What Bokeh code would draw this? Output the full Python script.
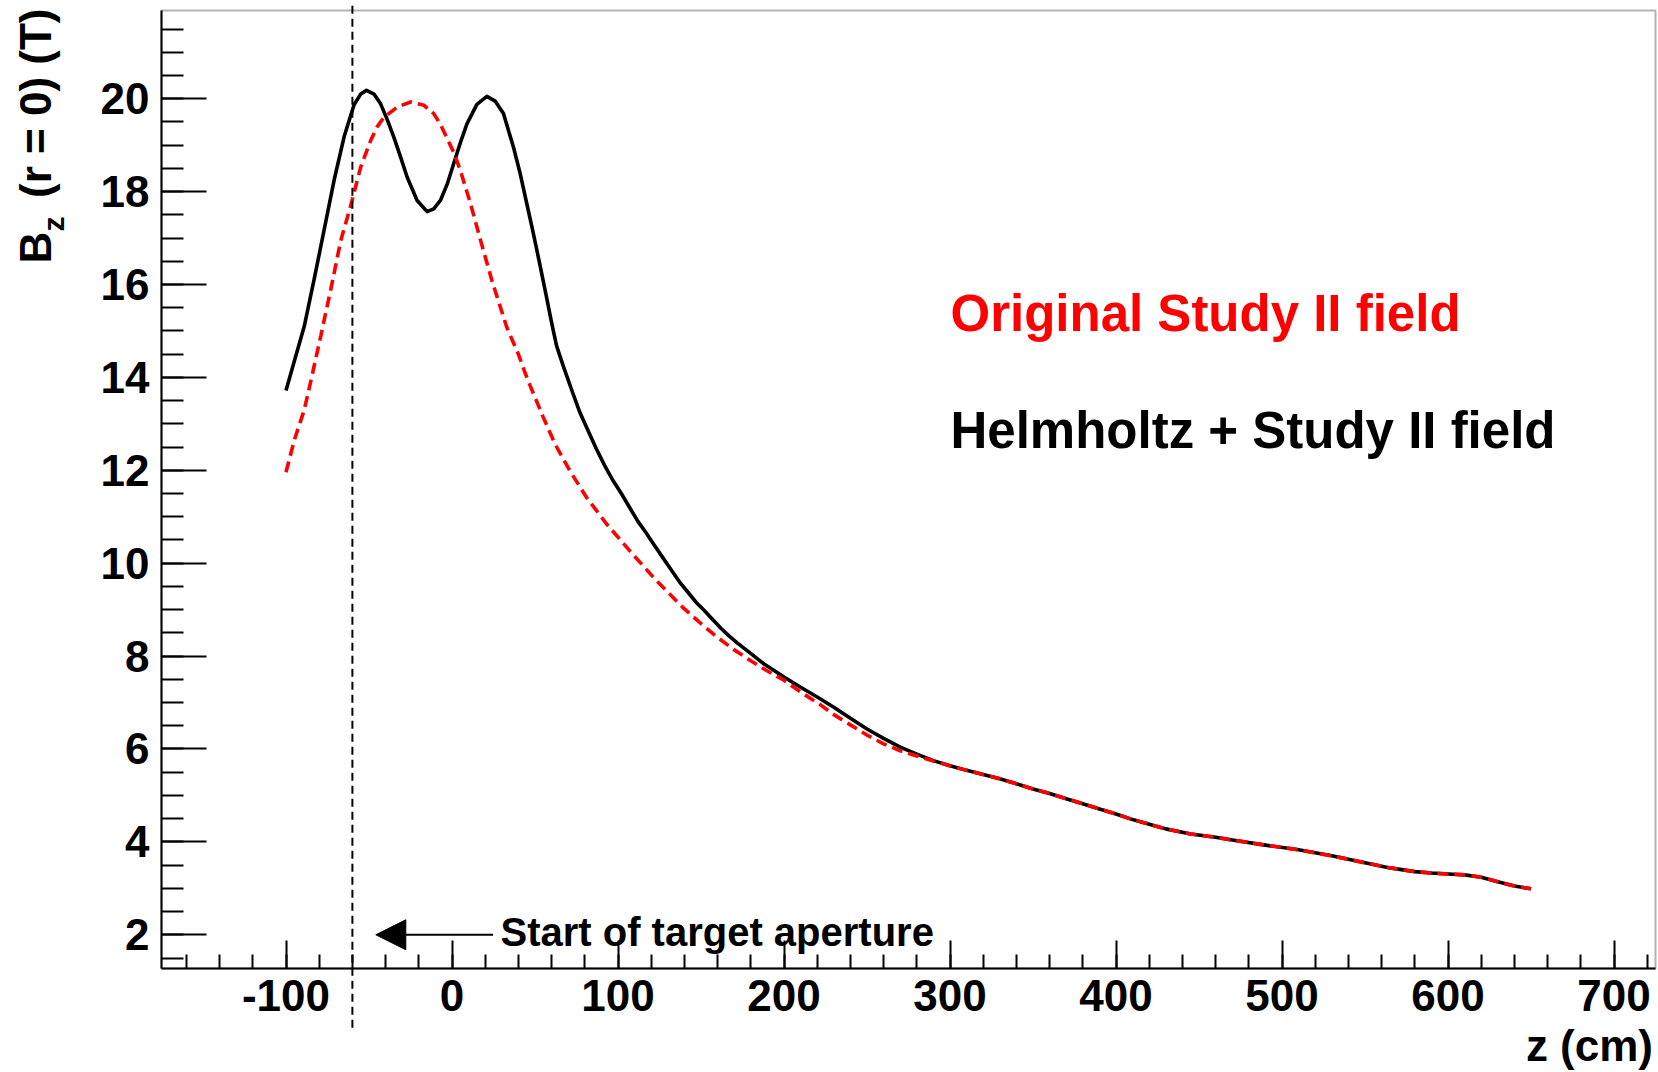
from bokeh.plotting import figure
from bokeh.models import (Range1d, SingleIntervalTicker, Label, Arrow, NormalHead,
                          ColumnDataSource, BoxAnnotation)
from bokeh.embed import file_html
from bokeh.resources import INLINE

# Helmholtz + Study II field (black, solid)
z_helm = [-100, -95, -89, -83, -77, -71, -65, -59, -55, -51.5, -47, -43, -39, -35, -31, -27, -21, -15,
          -11, -7, -3, 1, 5, 9, 15, 21, 26, 31, 37, 41, 45, 49, 53, 57, 60, 63, 67, 72, 77, 82, 87,
          92, 97, 102, 107, 112, 117, 122, 127, 132, 137, 142, 147, 152, 157, 162, 167, 172, 177,
          182, 188, 194, 200, 210, 220, 230, 240, 250, 260, 270, 280, 290, 300, 310, 320, 330, 340,
          350, 360, 370, 380, 390, 400, 410, 420, 430, 445, 460, 470, 490, 510, 530, 550, 565, 580,
          590, 600, 610, 620, 630, 640, 650]
b_helm = [13.72, 14.35, 15.1, 16.12, 17.18, 18.25, 19.18, 19.87, 20.1, 20.18, 20.1, 19.89, 19.55, 19.17,
          18.75, 18.31, 17.81, 17.57, 17.63, 17.81, 18.15, 18.6, 19.05, 19.46, 19.88, 20.05, 19.95,
          19.68, 18.96, 18.4, 17.75, 17.1, 16.42, 15.72, 15.18, 14.68, 14.25, 13.74, 13.25, 12.85,
          12.46, 12.1, 11.78, 11.5, 11.2, 10.9, 10.65, 10.38, 10.12, 9.86, 9.6, 9.38, 9.16, 8.98,
          8.79, 8.6, 8.43, 8.28, 8.14, 8.0, 7.83, 7.69, 7.55, 7.33, 7.12, 6.9, 6.66, 6.43, 6.23,
          6.04, 5.89, 5.75, 5.64, 5.54, 5.45, 5.36, 5.25, 5.14, 5.04, 4.93, 4.82, 4.71, 4.6, 4.48,
          4.38, 4.28, 4.17, 4.1, 4.04, 3.93, 3.83, 3.7, 3.55, 3.44, 3.36, 3.33, 3.31, 3.29, 3.24,
          3.14, 3.05, 2.99]

# Original Study II field (red, dashed)
z_orig = [-100, -95, -89, -85, -79, -73, -67, -61, -55, -49, -45, -41, -33, -25, -17, -11, -7, -3, 1, 5,
          11, 17, 24, 33, 40, 44, 47, 55, 62, 71, 81, 93, 107, 123, 139, 149, 159, 169, 179, 189, 200,
          212, 222, 230, 240, 250, 260, 270, 280, 290, 300, 310, 320, 330, 340, 350, 360, 370, 380,
          390, 400, 410, 420, 430, 445, 460, 470, 490, 510, 530, 550, 565, 580, 590, 600, 610, 620,
          630, 640, 650]
b_orig = [11.96, 12.65, 13.3, 13.93, 14.9, 15.9, 16.95, 17.7, 18.53, 19.1, 19.4, 19.6, 19.82, 19.93,
          19.86, 19.68, 19.45, 19.15, 18.85, 18.46, 17.76, 16.98, 16.09, 15.08, 14.5, 14.1, 13.83,
          13.14, 12.57, 11.99, 11.42, 10.85, 10.27, 9.63, 9.05, 8.73, 8.43, 8.16, 7.92, 7.7, 7.48,
          7.18, 6.95, 6.74, 6.52, 6.3, 6.11, 5.96, 5.85, 5.74, 5.64, 5.54, 5.45, 5.36, 5.25, 5.14,
          5.04, 4.93, 4.82, 4.71, 4.6, 4.48, 4.38, 4.28, 4.17, 4.1, 4.04, 3.93, 3.83, 3.7, 3.55,
          3.44, 3.36, 3.33, 3.31, 3.29, 3.24, 3.14, 3.05, 2.99]

target_start_z = -60
x_label = "z (cm)"
y_label_main = "B"
y_label_sub = "z"
y_label_rest = "(r = 0) (T)"
legend_orig = "Original Study II field"
legend_helm = "Helmholtz + Study II field"
note_text = "Start of target aperture"

FONT = "Liberation Sans"
W, H = 1658, 1072

# axes box (data units) and the canvas placement of that box
X0, X1 = -175.0, 725.0
Y0, Y1 = 1.274, 21.9
FL, FR, FT, FB = 161, 1655, 10, 968
kx = (FR - FL) / (X1 - X0)
ky = (FB - FT) / (Y1 - Y0)
xr = Range1d(X0 - FL / kx, X1 + (W - FR) / kx)
yr = Range1d(Y0 - (H - FB) / ky, Y1 + FT / ky)

p = figure(width=W, height=H, output_backend="svg", toolbar_location=None,
           x_range=xr, y_range=yr,
           min_border_left=0, min_border_right=0, min_border_top=0, min_border_bottom=0)
p.grid.visible = False
p.outline_line_color = None
p.background_fill_color = "white"
p.border_fill_color = "white"

xa = p.xaxis[0]
xa.fixed_location = Y0
xa.bounds = (X0, X1)
xa.ticker = SingleIntervalTicker(interval=100, num_minor_ticks=5)
xa.major_tick_in = 28
xa.major_tick_out = 0
xa.minor_tick_in = 14
xa.minor_tick_out = 0
xa.major_label_overrides = {-100: "-100"}
ya = p.yaxis[0]
ya.fixed_location = X0
ya.bounds = (Y0, Y1)
ya.ticker = SingleIntervalTicker(interval=2, num_minor_ticks=4)
ya.major_tick_in = 45
ya.major_tick_out = 0
ya.minor_tick_in = 22
ya.minor_tick_out = 0
for ax in (xa, ya):
    ax.axis_line_width = 2
    ax.major_tick_line_width = 2
    ax.minor_tick_line_width = 2
    ax.major_label_text_font = FONT
    ax.major_label_text_font_style = "bold"
    ax.major_label_text_font_size = "44px"
    ax.major_label_text_color = "black"
xa.major_label_standoff = 11
ya.major_label_standoff = 12

p.add_layout(BoxAnnotation(left=X0, right=X1, bottom=Y0, top=Y1, fill_alpha=0,
                           line_color="black", line_width=2))

src_h = ColumnDataSource(data=dict(z=z_helm, b=b_helm))
src_o = ColumnDataSource(data=dict(z=z_orig, b=b_orig))
p.line("z", "b", source=src_h, line_color="black", line_width=3.6, line_join="round")
p.line("z", "b", source=src_o, line_color="#ff0000", line_width=3.6, line_dash="11 6")

# vertical dashed marker for the start of the target aperture
p.add_layout(Arrow(end=None, start=None, x_start=target_start_z, y_start=0.0,
                   x_end=target_start_z, y_end=22.0, line_color="black",
                   line_width=2, line_dash="8 5"))
# arrow pointing to it
p.add_layout(Arrow(end=NormalHead(size=30, fill_color="black", line_color="black", line_width=1),
                   x_start=24.7, y_start=2.0, x_end=-45.9, y_end=2.0,
                   line_color="black", line_width=2))


def sy(cy, size):
    # canvas y of the baseline -> screen y, with a baseline correction
    return H - cy + 0.33 * size


def lab(x, y, text, size, color="black", align="left", angle=0):
    p.add_layout(Label(x=x, y=y, x_units="screen", y_units="screen", text=text,
                       angle=angle, angle_units="deg", text_font=FONT,
                       text_font_style="bold", text_font_size=f"{size}px",
                       text_color=color, text_baseline="alphabetic", text_align=align))


lab(500, sy(945, 40), note_text, 40)
lab(950, sy(330, 51), legend_orig, 51, color="#ff0000")
lab(950, sy(446.7, 51), legend_helm, 51)
lab(1652.5, sy(1060, 44), x_label, 44, align="right")
# rotated y title: baseline at canvas x, shifted left for the baseline correction
lab(50 - 0.33 * 44, H - 263, y_label_main, 44, angle=90)
lab(63 - 0.33 * 30, H - 231, y_label_sub, 30, angle=90)
lab(50 - 0.33 * 44, H - 8, y_label_rest, 44, align="right", angle=90)

open("out.html", "w").write(file_html(p, INLINE))
